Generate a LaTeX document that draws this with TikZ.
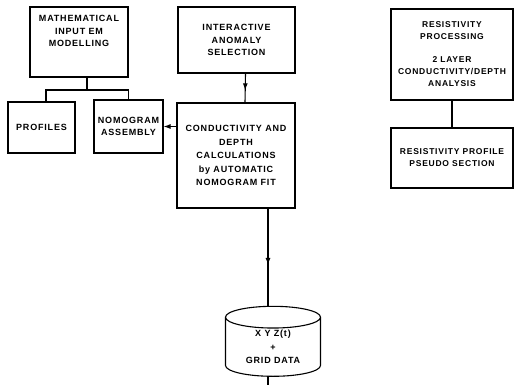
\documentclass[tikz,border=0pt]{standalone}
\usepackage{fontspec}
\newfontfamily\boxfont{Liberation Sans}[LetterSpace=9]
\usetikzlibrary{arrows.meta,positioning,shapes.geometric,decorations.markings}
\tikzset{
  blockbox/.style={draw, line width=1.1pt, align=center, inner sep=2pt},
  datastore/.style={draw, line width=1.1pt, align=center, cylinder, shape border rotate=90,
    aspect=0.4, inner sep=0pt},
  link/.style={line width=1.1pt},
  tip/.tip={Latex[length=7pt,width=5pt]},
  midarrow/.style={link, postaction={decorate}, decoration={markings,
    mark=at position 0.58 with {\arrow{tip}}}}
}

\begin{document}
\begin{tikzpicture}[x=1pt,y=-1pt, font=\boxfont\bfseries\fontsize{9}{12.5}\selectfont]
  \useasboundingbox (0,0) rectangle (516,384);
  % left branch
  \node[blockbox, minimum width=98pt, minimum height=70pt, text depth=22pt] (model) at (79,42)
    {MATHEMATICAL\\INPUT EM\\MODELLING};
  \node[blockbox, minimum width=67pt, minimum height=51pt] (profiles) at (41.5,127.5) {PROFILES};
  \node[blockbox, minimum width=69pt, minimum height=53pt] (nomo) at (128.5,126.5)
    {NOMOGRAM\\ASSEMBLY};
  % middle column
  \node[blockbox, minimum width=117pt, minimum height=66pt] (select) at (236.5,40)
    {INTERACTIVE\\ANOMALY\\SELECTION};
  \node[blockbox, minimum width=118pt, minimum height=105pt, font=\boxfont\bfseries\fontsize{9}{13.5}\selectfont]
    (calc) at (236,155.5)
    {CONDUCTIVITY AND\\DEPTH\\CALCULATIONS\\by AUTOMATIC\\NOMOGRAM FIT};
  \node[datastore, minimum width=95pt, minimum height=70pt, font=\boxfont\bfseries\fontsize{9}{13.5}\selectfont]
    (store) at (273,347) {X Y Z(t)\\+\\GRID DATA};
  % right column
  \node[blockbox, minimum width=122pt, minimum height=91pt, font=\boxfont\bfseries\fontsize{8.5}{12}\selectfont]
    (resproc) at (452,54.5)
    {RESISTIVITY\\PROCESSING\\[11pt]2 LAYER\\CONDUCTIVITY/DEPTH\\ANALYSIS};
  \node[blockbox, minimum width=122pt, minimum height=60pt, font=\boxfont\bfseries\fontsize{8.5}{12}\selectfont]
    (respro) at (452,158) {RESISTIVITY PROFILE\\PSEUDO SECTION};
  \coordinate (fork) at (87,90);
  \coordinate (out) at (268,390);

  % connectors
  \draw[link] (model.south -| fork) -- (fork);
  \draw[link] (profiles.north -| 46,0) -- (46,90) -- (nomo.north |- fork) -- (nomo.north);
  \draw[link, -tip] (nomo.east -| calc.west) -- (nomo.east);
  \draw[midarrow] ([xshift=9pt]select.south) -- ([xshift=9pt]calc.north);
  \draw[midarrow] (calc.south -| out) -- (store.north -| out);
  \draw[link] (store.south -| out) -- (out);
  \draw[link] (resproc.south) -- (respro.north);
\end{tikzpicture}
\end{document}
